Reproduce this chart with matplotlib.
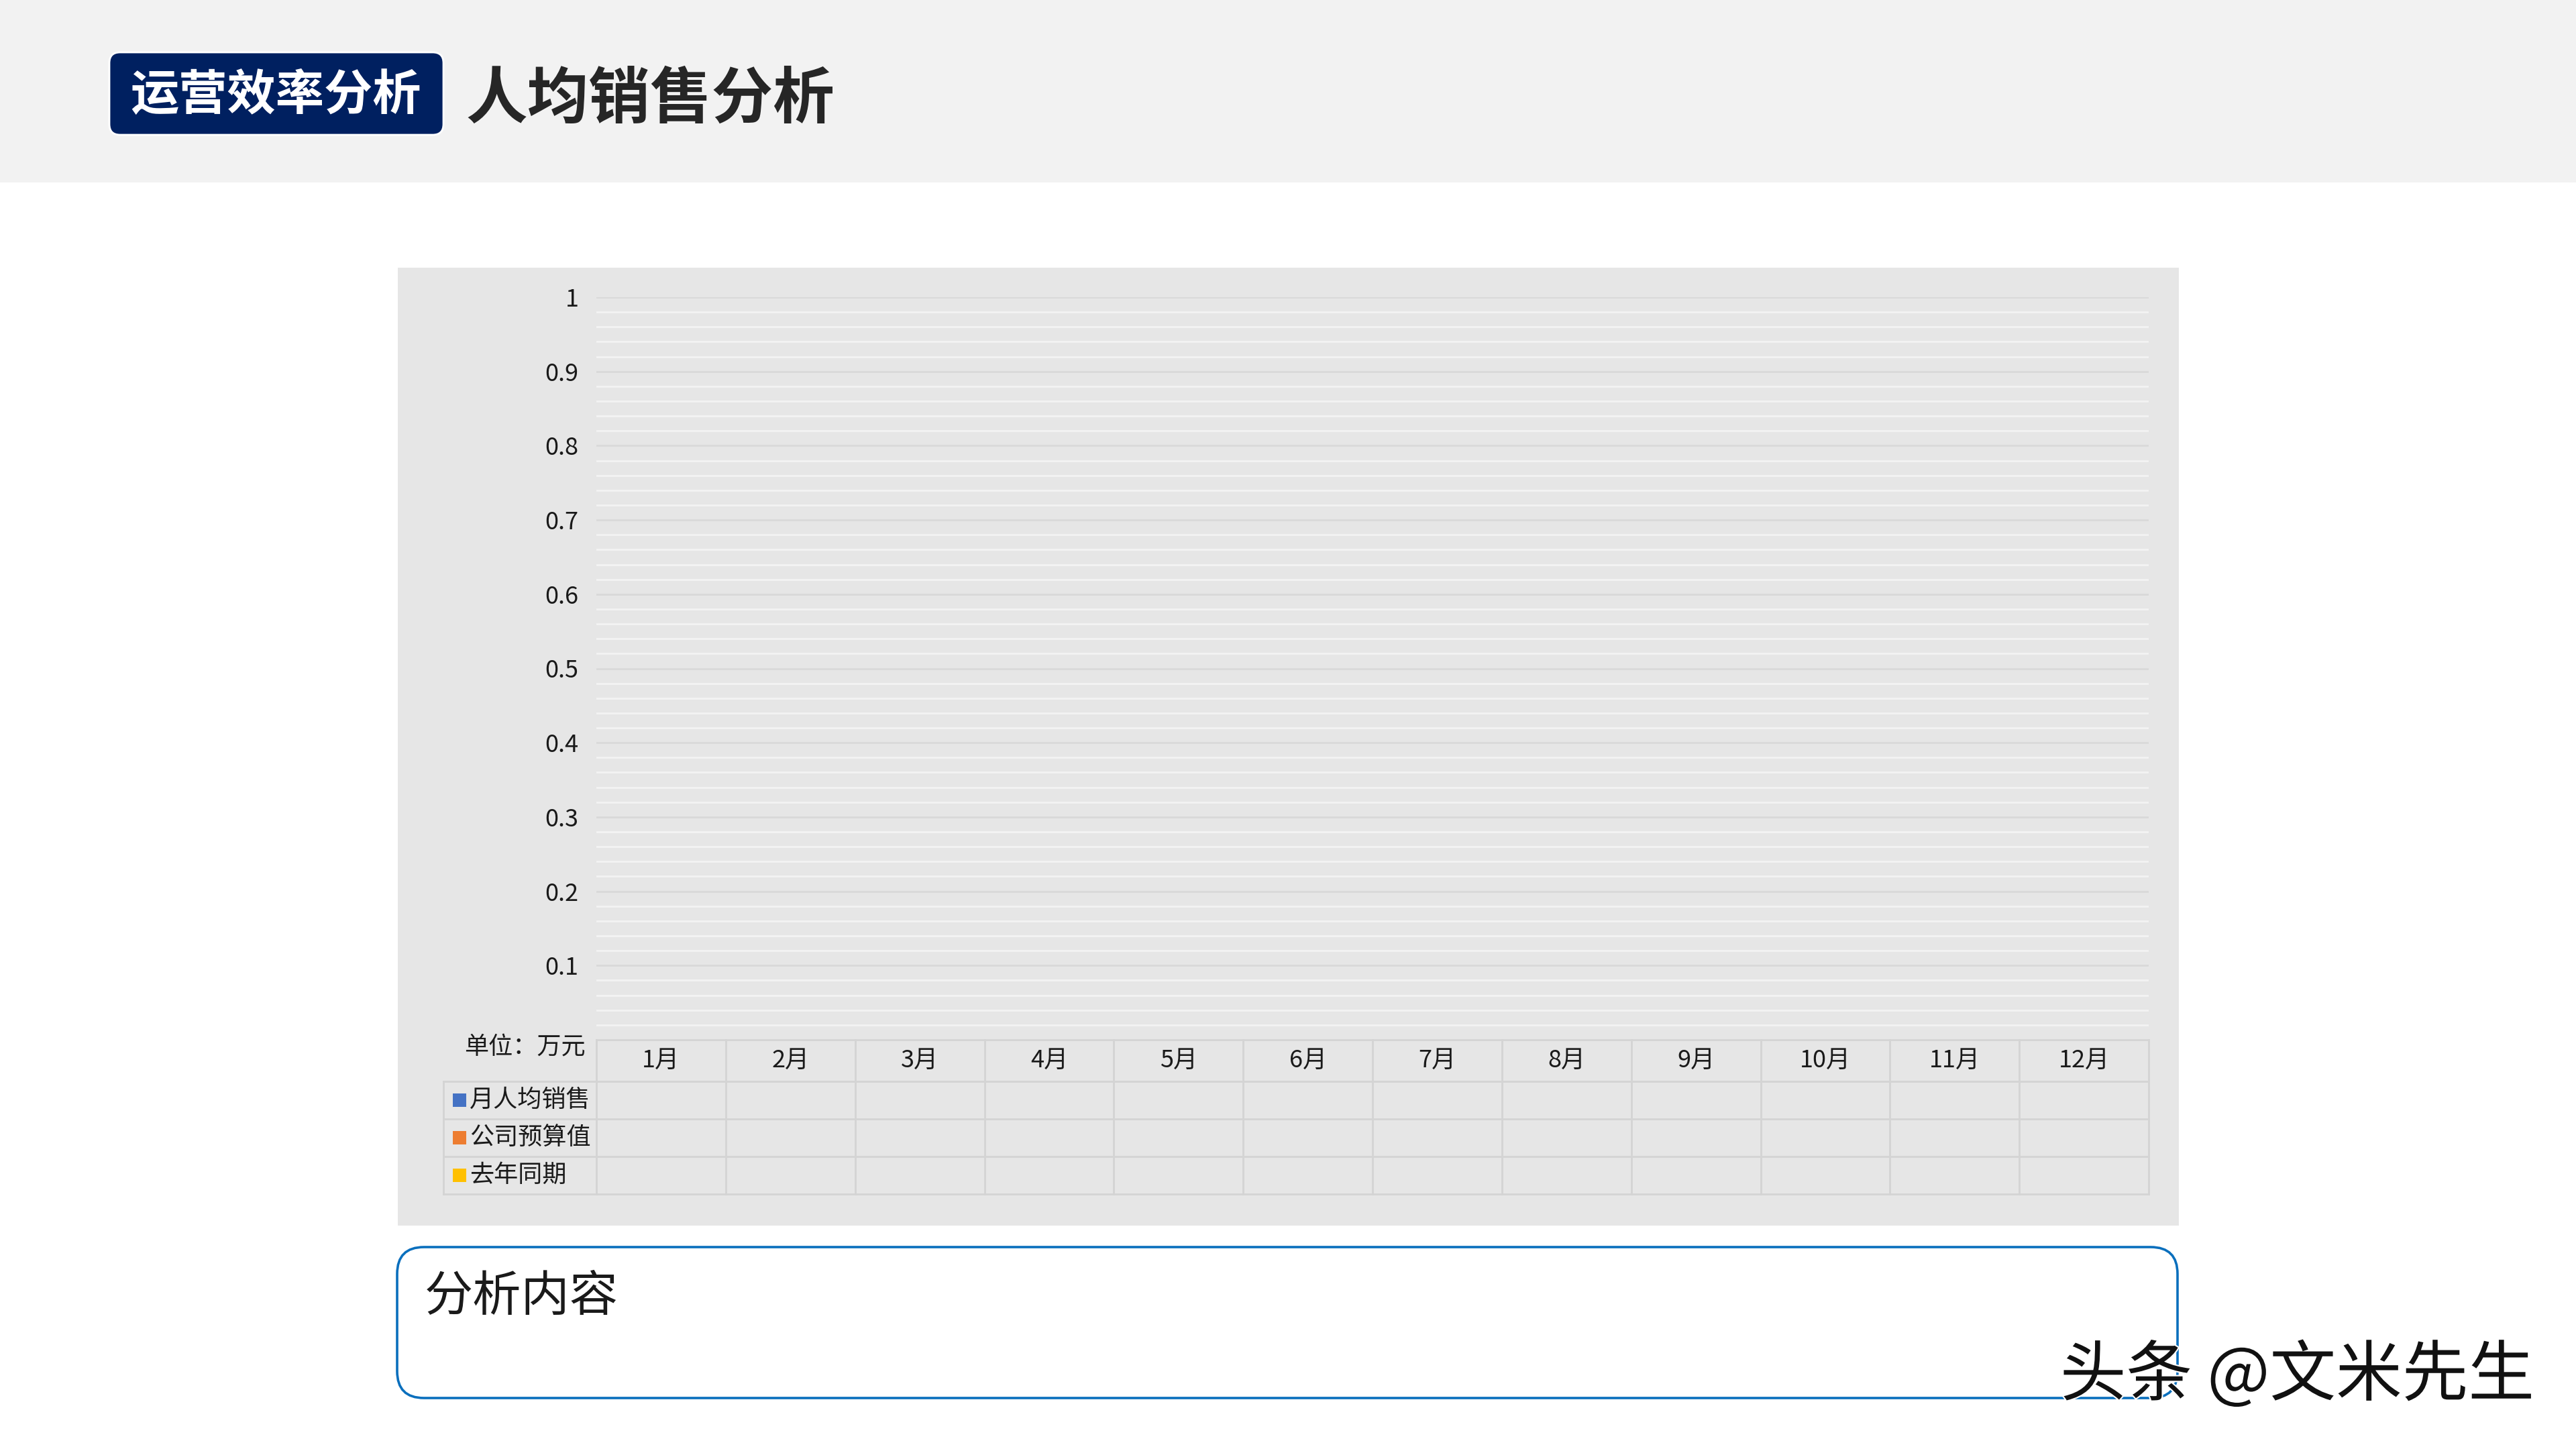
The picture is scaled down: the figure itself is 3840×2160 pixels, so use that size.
import numpy as np
import matplotlib
matplotlib.use("Agg")
import matplotlib.pyplot as plt
from matplotlib.patches import Rectangle, FancyBboxPatch
import matplotlib.patheffects as pe

plt.rcParams['font.family'] = ['Noto Sans CJK SC', 'DejaVu Sans']

# chart data (the template is empty: no values filled in)
months = ['1月', '2月', '3月', '4月', '5月', '6月', '7月', '8月', '9月', '10月', '11月', '12月']
series_names = ['月人均销售', '公司预算值', '去年同期']
series_colors = ['#4472c4', '#ed7d31', '#ffc000']
monthly_sales = [None] * 12
budget = [None] * 12
last_year = [None] * 12
y_ticks = [0.1, 0.2, 0.3, 0.4, 0.5, 0.6, 0.7, 0.8, 0.9, 1.0]
y_max = 1.0

W, H = 3840, 2160
fig = plt.figure(figsize=(W / 100, H / 100), dpi=100, facecolor='white')

# background layer in pixel coordinates
bg = fig.add_axes([0, 0, 1, 1], zorder=0)
bg.set_xlim(0, W)
bg.set_ylim(H, 0)
bg.axis('off')

# header band
bg.add_patch(Rectangle((0, 0), W, 272, fc='#f2f2f2', ec='none'))
bg.add_patch(FancyBboxPatch((163, 78), 498, 123, boxstyle='round,pad=0,rounding_size=16',
                            fc='#002060', ec='white', lw=2))
bg.text(411, 143, '运营效率分析', color='white', fontsize=52, fontweight='bold',
        ha='center', va='center')
bg.text(694, 149, '人均销售分析', color='#262626', fontsize=66, fontweight='bold',
        ha='left', va='center')

# chart area
bg.add_patch(Rectangle((593, 399), 3248 - 593, 1827 - 399, fc='#e6e6e6', ec='none'))

# analysis box
bg.add_patch(FancyBboxPatch((592, 1859), 3246 - 592, 2084 - 1859,
                            boxstyle='round,pad=0,rounding_size=40',
                            fc='white', ec='#0a6fbd', lw=2.6))
bg.text(633, 1934, '分析内容', color='#1a1a1a', fontsize=52, ha='left', va='center')

# plot axes
x0, x1, ytop, y0 = 889, 3203, 443, 1550
ax = fig.add_axes([x0 / W, (H - y0) / H, (x1 - x0) / W, (y0 - ytop) / H], zorder=1)
ax.set_facecolor('none')
ax.set_xlim(0, len(months))
ax.set_ylim(0, y_max)
for s in ax.spines.values():
    s.set_visible(False)

ax.set_yticks(y_ticks)
ax.set_yticklabels([f'{v:g}' for v in y_ticks])
ax.set_yticks(np.arange(0, y_max + 0.001, 0.02), minor=True)
ax.tick_params(axis='y', which='both', length=0, pad=19, labelsize=26, labelcolor='#1a1a1a')
ax.tick_params(axis='x', which='both', length=0, labelbottom=False)
ax.set_xticks([])
ax.grid(axis='y', which='minor', color='#f3f3f3', lw=2.0)
ax.grid(axis='y', which='major', color='#d9d9d9', lw=2.0)
ax.set_axisbelow(True)

# the (empty) series
xs = np.arange(len(months))
for vals, c in zip([monthly_sales, budget, last_year], series_colors):
    v = np.array([np.nan if x is None else x for x in vals], dtype=float)
    ax.plot(xs + 0.5, v, color=c, lw=3)

# data table under the axis
ph = y0 - ytop
row_edges = [1550, 1612, 1668, 1724, 1780]
frac = [-(r - y0) / ph for r in row_edges]
tr = ax.get_xaxis_transform()
line_c = '#d4d4d4'
for i in range(len(months) + 1):
    ax.plot([i, i], [frac[0], frac[-1]], transform=tr, color=line_c, lw=2, clip_on=False)
for f in frac:
    ax.plot([0, len(months)], [f, f], transform=tr, color=line_c, lw=2, clip_on=False)
for i, m in enumerate(months):
    ax.text(i + 0.5, (frac[0] + frac[1]) / 2, m, transform=tr, ha='center', va='center',
            fontsize=26, color='#1a1a1a', clip_on=False)

# legend column of the table
lx = 661
for y in row_edges[1:]:
    bg.plot([lx, x0], [y, y], color=line_c, lw=2)
bg.plot([lx, lx], [row_edges[1], row_edges[-1]], color=line_c, lw=2)
for k, (name, c) in enumerate(zip(series_names, series_colors)):
    yc = (row_edges[k + 1] + row_edges[k + 2]) / 2
    bg.add_patch(Rectangle((675, yc - 10), 20, 20, fc=c, ec='none'))
    bg.text(700, yc, name, fontsize=26, color='#1a1a1a', ha='left', va='center')

bg.text(873, 1561, '单位：万元', fontsize=26, color='#1a1a1a', ha='right', va='center')

# watermark
bg.text(3778, 2052, '头条 @文米先生', fontsize=71, color='#111111', ha='right', va='center',
        path_effects=[pe.withStroke(linewidth=3, foreground='white')])

fig.savefig('out.png', dpi=100, facecolor='white')
